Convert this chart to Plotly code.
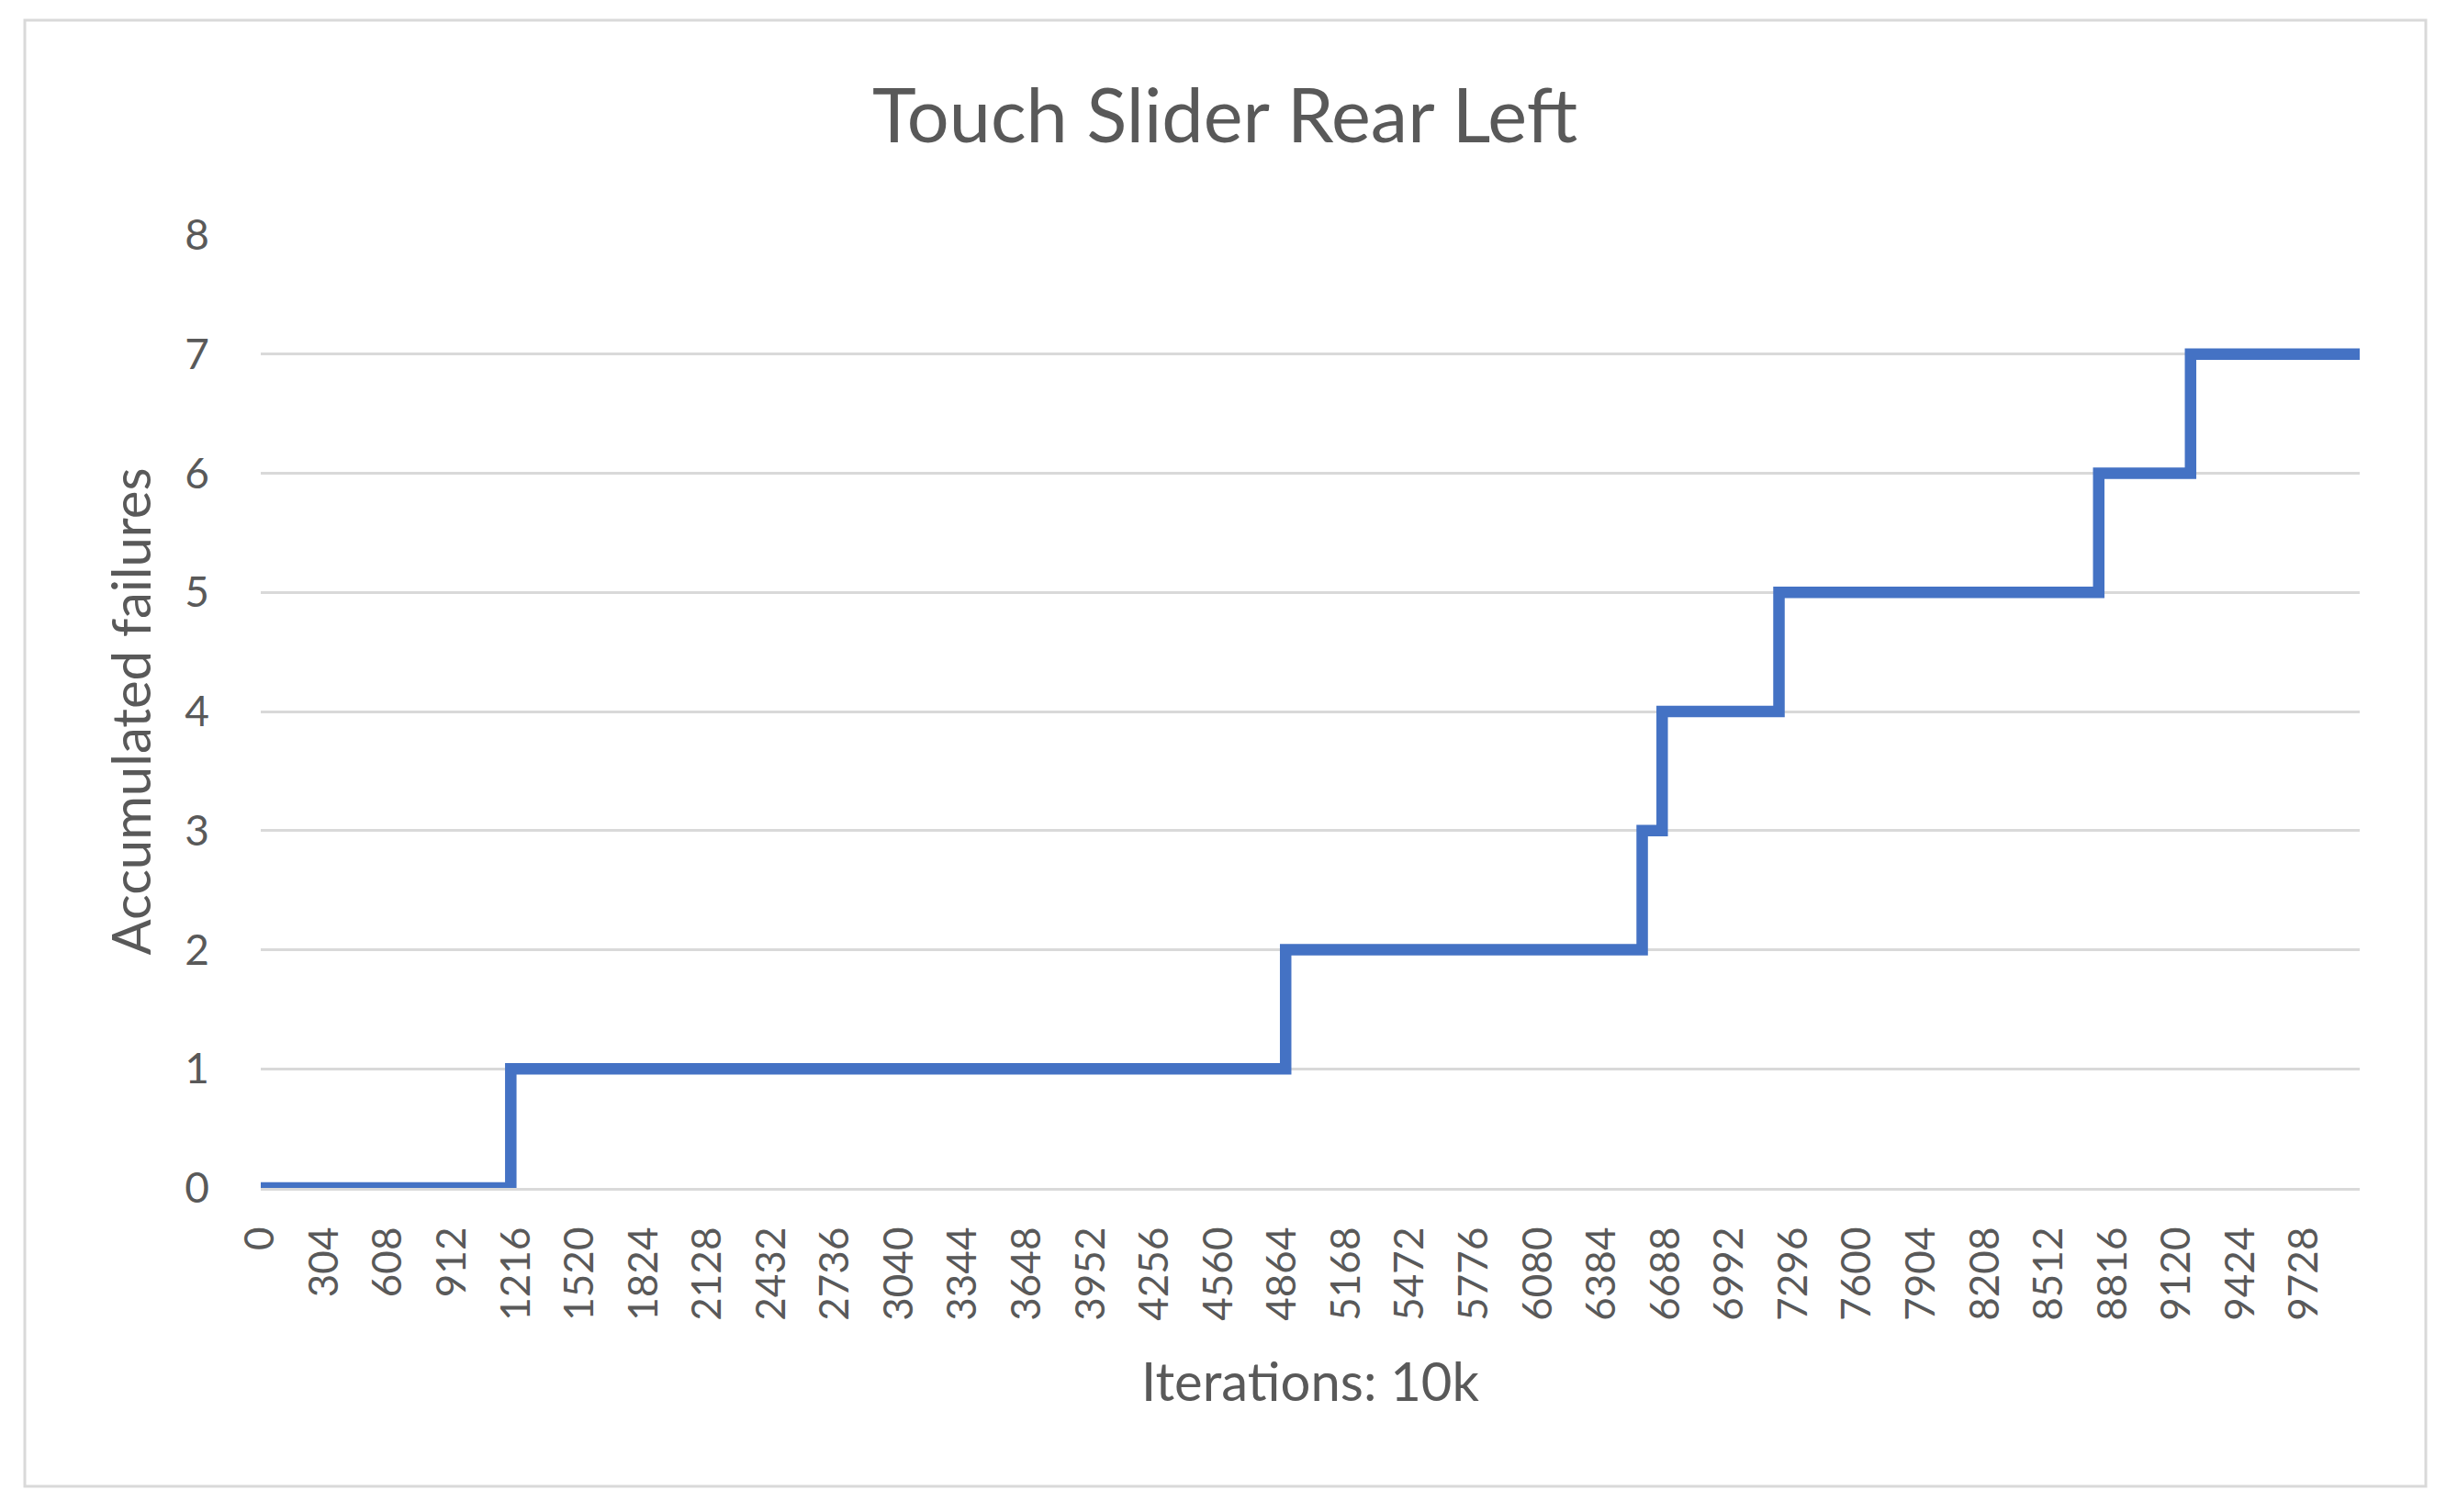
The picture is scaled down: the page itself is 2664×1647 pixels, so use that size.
import plotly.graph_objects as go

# Data (step curve of accumulated failures)
iterations = [0, 1190, 4878, 6575, 6670, 7226, 8748, 9185, 9990]
failures = [0, 1, 2, 3, 4, 5, 6, 7, 7]

x_tick_labels = [0, 304, 608, 912, 1216, 1520, 1824, 2128, 2432, 2736, 3040,
                 3344, 3648, 3952, 4256, 4560, 4864, 5168, 5472, 5776, 6080,
                 6384, 6688, 6992, 7296, 7600, 7904, 8208, 8512, 8816, 9120,
                 9424, 9728]
y_tick_labels = [0, 1, 2, 3, 4, 5, 6, 7, 8]

W, H = 2664, 1647
OFF = 8  # default body margin of the html page
L, R, T, B = 284 - OFF, 94 + OFF, 256 - OFF, 353 + OFF
FONT = "Lato"
TXT = "#595959"
GRID = "#D9D9D9"

fig = go.Figure()
fig.add_trace(go.Scatter(
    x=iterations, y=failures, mode="lines", line_shape="hv",
    line=dict(color="#4472C4", width=12.5), showlegend=False, hoverinfo="skip",
))

pw = W - L - R
ph = H - T - B
bx0, bx1, by0, by1 = 27 - OFF, 2642 - OFF, 22 - OFF, 1619 - OFF
fig.update_layout(
    width=W, height=H,
    margin=dict(l=L, r=R, t=T, b=B),
    paper_bgcolor="white", plot_bgcolor="white",
    font=dict(family=FONT, color=TXT),
    title=dict(text="Touch Slider Rear Left", x=(1334 - OFF) / W, xanchor="center",
               y=1 - (127 - OFF) / H, yanchor="middle",
               font=dict(size=81, color=TXT, family=FONT)),
    shapes=[dict(type="rect", xref="paper", yref="paper",
                 x0=(bx0 - L) / pw, x1=(bx1 - L) / pw,
                 y0=(H - B - by1) / ph, y1=(H - B - by0) / ph,
                 line=dict(color=GRID, width=3), layer="below")],
)
fig.update_xaxes(
    range=[0, 9990], tickmode="array", tickvals=x_tick_labels,
    ticktext=[str(v) for v in x_tick_labels], tickangle=-90,
    tickfont=dict(size=44, color=TXT, family=FONT),
    showgrid=False, zeroline=False, showline=True, linecolor=GRID, linewidth=3,
    ticks="", ticklabelstandoff=22,
    title=dict(text="Iterations: 10k", font=dict(size=58, color=TXT, family=FONT),
               standoff=48),
)
fig.update_yaxes(
    range=[0, 8], tickmode="array", tickvals=y_tick_labels,
    tickfont=dict(size=46, color=TXT, family=FONT),
    showgrid=True, gridcolor=GRID, gridwidth=3, zeroline=False, showline=False,
    ticks="", ticklabelstandoff=55,
    title=dict(text="Accumulated failures", font=dict(size=58, color=TXT, family=FONT),
               standoff=18),
)

fig.write_html("out.html")
